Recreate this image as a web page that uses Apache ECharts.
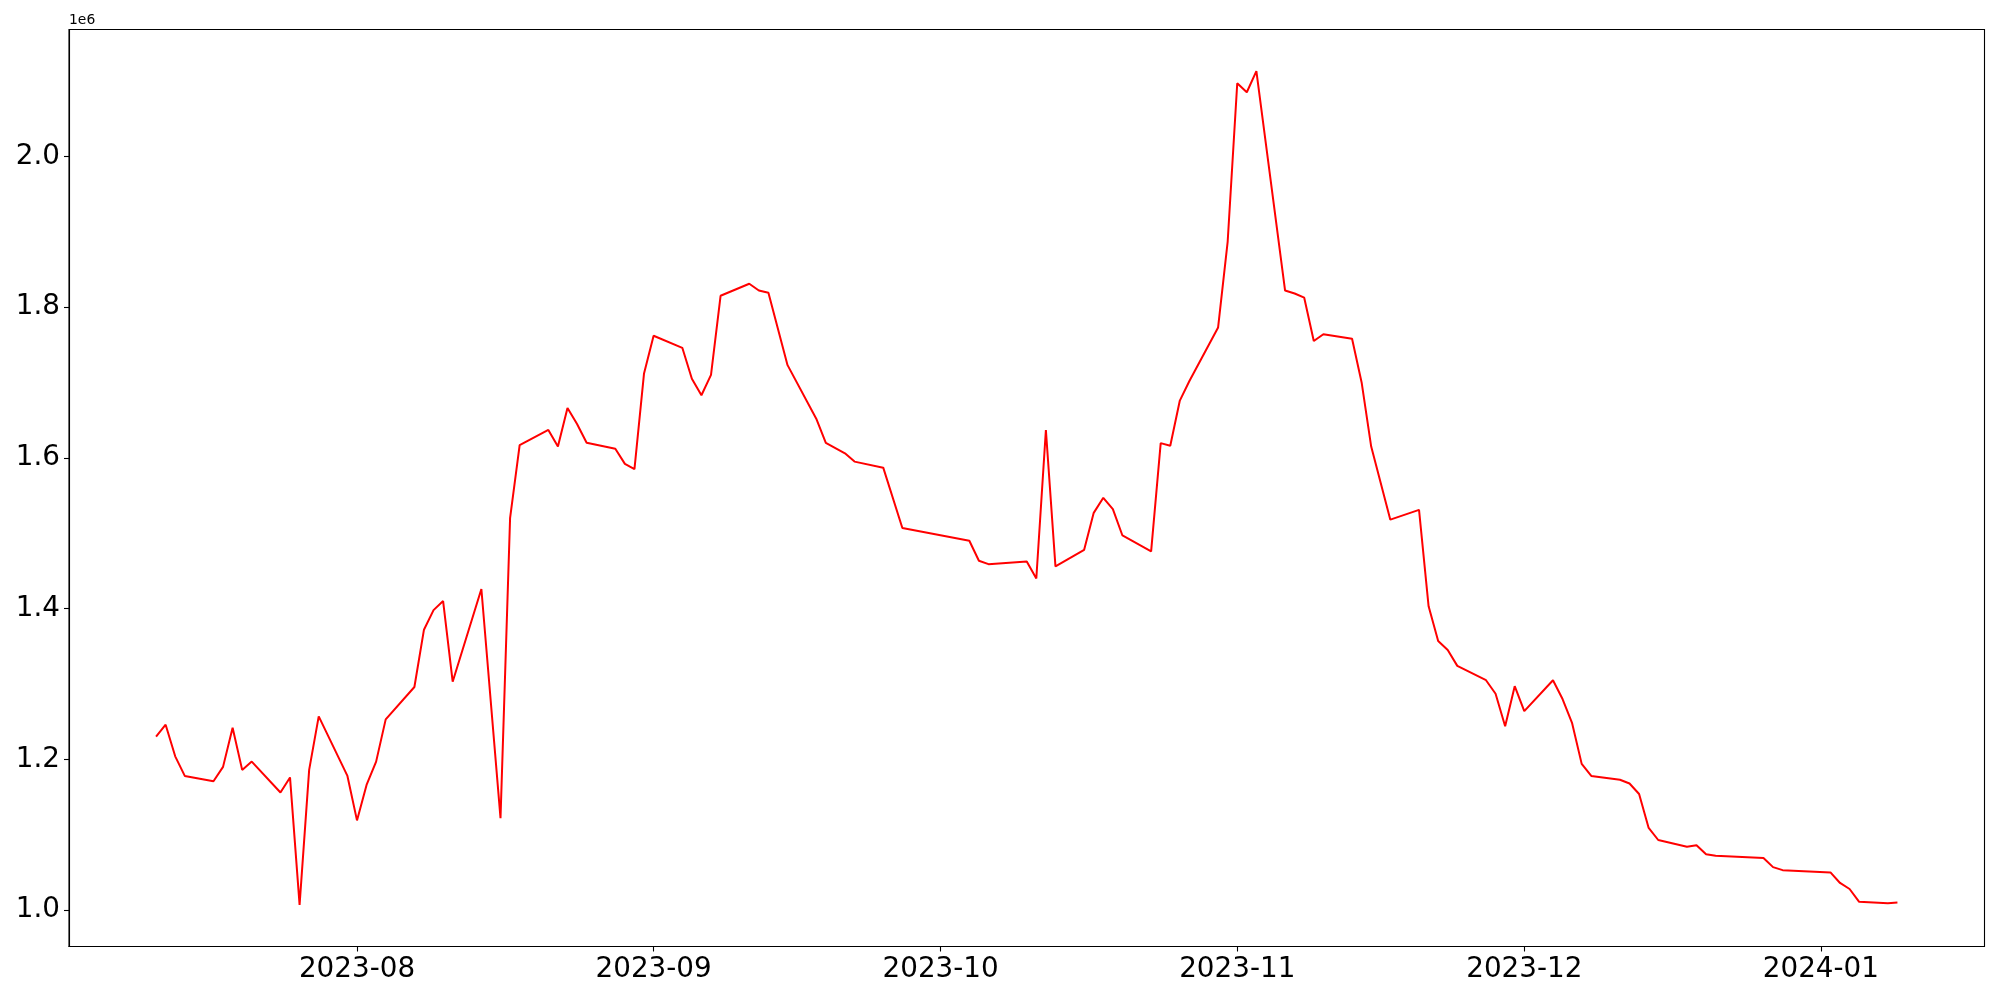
<!DOCTYPE html>
<html><head><meta charset="utf-8">
<script src="https://cdn.jsdelivr.net/npm/echarts@6/dist/echarts.min.js"></script>
<style>html,body{margin:0;padding:0;background:#fff}#c{width:2000px;height:1000px}</style>
</head><body><div id="c"></div>
<script>
const dates = [
'2023-07-11','2023-07-12','2023-07-13','2023-07-14',
'2023-07-17','2023-07-18','2023-07-19','2023-07-20','2023-07-21',
'2023-07-24','2023-07-25','2023-07-26','2023-07-27','2023-07-28',
'2023-07-31','2023-08-01','2023-08-02','2023-08-03','2023-08-04',
'2023-08-07','2023-08-08','2023-08-09','2023-08-10','2023-08-11',
'2023-08-14','2023-08-16','2023-08-17','2023-08-18',
'2023-08-21','2023-08-22','2023-08-23','2023-08-24','2023-08-25',
'2023-08-28','2023-08-29','2023-08-30','2023-08-31','2023-09-01',
'2023-09-04','2023-09-05','2023-09-06','2023-09-07','2023-09-08',
'2023-09-11','2023-09-12','2023-09-13','2023-09-15',
'2023-09-18','2023-09-19','2023-09-21','2023-09-22',
'2023-09-25','2023-09-27',
'2023-10-04','2023-10-05','2023-10-06',
'2023-10-10','2023-10-11','2023-10-12','2023-10-13',
'2023-10-16','2023-10-17','2023-10-18','2023-10-19','2023-10-20',
'2023-10-23','2023-10-24','2023-10-25','2023-10-26','2023-10-27',
'2023-10-30','2023-10-31','2023-11-01','2023-11-02','2023-11-03',
'2023-11-06','2023-11-07','2023-11-08','2023-11-09','2023-11-10',
'2023-11-13','2023-11-14','2023-11-15','2023-11-17',
'2023-11-20','2023-11-21','2023-11-22','2023-11-23','2023-11-24',
'2023-11-27','2023-11-28','2023-11-29','2023-11-30','2023-12-01',
'2023-12-04','2023-12-05','2023-12-06','2023-12-07','2023-12-08',
'2023-12-11','2023-12-12','2023-12-13','2023-12-14','2023-12-15',
'2023-12-18','2023-12-19','2023-12-20','2023-12-21',
'2023-12-26','2023-12-27','2023-12-28',
'2024-01-02','2024-01-03','2024-01-04','2024-01-05',
'2024-01-08','2024-01-09'
];
const values = [
1230000,1246000,1204000,1178000,
1171000,1190000,1242000,1186000,1197000,
1156000,1176000,1007000,1186000,1257000,
1178000,1119000,1166000,1197000,1253000,
1296000,1372000,1398000,1410000,1303000,
1426000,1122000,1520000,1617000,
1637000,1615000,1666000,1645000,1620000,
1612000,1592000,1585000,1712000,1762000,
1746000,1705000,1683000,1710000,1815000,
1831000,1822000,1819000,1723000,
1652000,1620000,1606000,1595000,
1587000,1507000,
1490000,1463500,1459000,
1462500,1440000,1637000,1456000,
1478000,1527000,1547000,1532000,1497000,
1476000,1619500,1616000,1676000,1702000,
1773000,1887000,2097000,2085000,2113000,
1822000,1818000,1812500,1755000,1764000,
1758000,1700000,1615000,1518000,
1531000,1403000,1357000,1345000,1324000,
1305000,1287000,1244000,1297000,1264000,
1305000,1280000,1248000,1194000,1178000,
1173000,1168000,1154000,1109000,1093000,
1084000,1086000,1074000,1072000,
1069000,1057000,1053000,
1050000,1036000,1028000,1011000,
1009000,1010000
];
const xTickDates = ['2023-08-01','2023-09-01','2023-10-01','2023-11-01','2023-12-01','2024-01-01'];
const yTickValues = [1000000,1200000,1400000,1600000,1800000,2000000];
const offsetLabel = '1e6';

function ts(s){ const p = s.split('-').map(Number); return Date.UTC(p[0], p[1]-1, p[2]); }
const xs = dates.map(ts);
const xSpan = xs[xs.length-1] - xs[0];
const xMin = xs[0] - 0.05 * xSpan, xMax = xs[xs.length-1] + 0.05 * xSpan;
const vMin = Math.min(...values), vMax = Math.max(...values);
const yMin = vMin - 0.05 * (vMax - vMin), yMax = vMax + 0.05 * (vMax - vMin);
const xTicks = xTickDates.map(ts);
const font = 'DejaVu Sans';

const chart = echarts.init(document.getElementById('c'), null, {renderer: 'canvas'});
chart.setOption({
  animation: false,
  backgroundColor: '#ffffff',
  grid: {left: 69, top: 29.5, right: 15.5, bottom: 53.5, show: true, borderColor: '#000', borderWidth: 1.1, backgroundColor: 'transparent'},
  xAxis: {
    type: 'value', min: xMin, max: xMax,
    axisLine: {show: true, onZero: false, lineStyle: {color: '#000', width: 1.1}},
    axisTick: {show: true, length: 5, lineStyle: {color: '#000', width: 1.1}, customValues: xTicks},
    axisLabel: {show: true, customValues: xTicks, margin: 9, color: '#000', fontSize: 27.8, fontFamily: font,
      formatter: function(v){ const d = new Date(v); return d.getUTCFullYear() + '-' + String(d.getUTCMonth()+1).padStart(2,'0'); }},
    splitLine: {show: false}
  },
  yAxis: {
    type: 'value', min: yMin, max: yMax,
    axisLine: {show: true, onZero: false, lineStyle: {color: '#000', width: 1.1}},
    axisTick: {show: true, length: 5, lineStyle: {color: '#000', width: 1.1}, customValues: yTickValues},
    axisLabel: {show: true, customValues: yTickValues, margin: 9, color: '#000', fontSize: 27.8, fontFamily: font,
      formatter: function(v){ return (v / 1e6).toFixed(1); }},
    splitLine: {show: false}
  },
  graphic: [{type: 'text', left: 69, top: 13, style: {text: offsetLabel, fill: '#000', fontSize: 13.9, fontFamily: font}}],
  series: [{
    type: 'line',
    data: xs.map((x, i) => [x, values[i]]),
    showSymbol: false, symbol: 'none',
    lineStyle: {color: '#ff0000', width: 2},
    itemStyle: {color: '#ff0000'}
  }]
});
</script></body></html>
